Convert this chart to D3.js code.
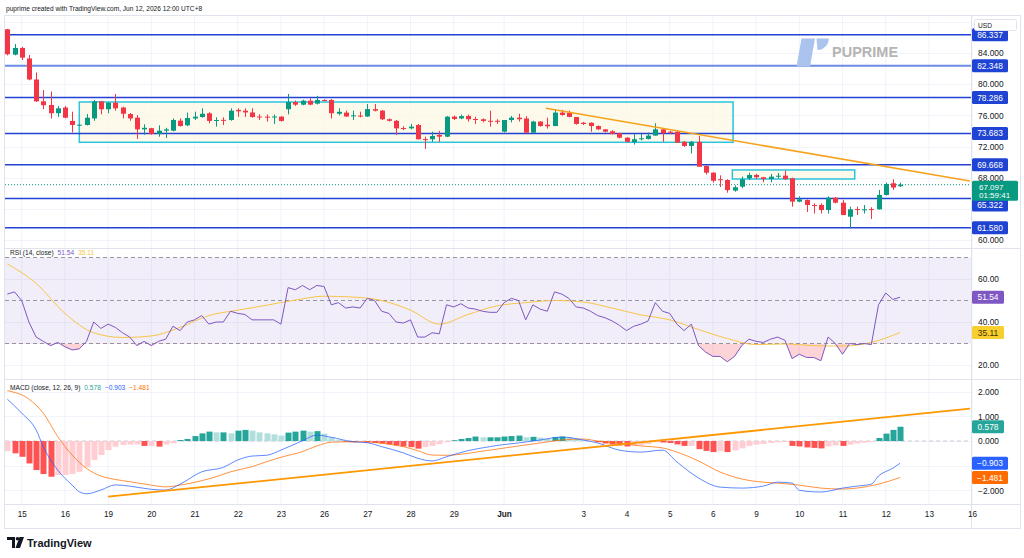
<!DOCTYPE html>
<html>
<head>
<meta charset="utf-8">
<script src="https://cdn.jsdelivr.net/npm/d3@7/dist/d3.min.js"></script>
<style>
  body { margin: 0; background: #ffffff; }
  svg { display: block; font-family: "Liberation Sans", Arial, sans-serif; }
</style>
</head>
<body>
<svg id="chart" width="1024" height="558"></svg>
<script>
// ---- data (4h bars, index 0..124) ----
var opens  = [87.05,83.79,84.65,83.3,80.6,77.8,77.33,76.27,77.0,75.28,74.7,74.76,75.6,77.8,76.78,77.62,77.0,76.17,75.7,74.2,
              74.35,73.6,74.03,74.03,75.32,74.72,75.6,75.78,76.26,75.28,75.42,75.4,76.69,76.6,76.37,75.85,75.83,75.78,75.83,76.78,
              77.7,77.37,77.88,77.5,77.97,77.97,76.2,76.35,75.9,75.97,75.85,76.8,76.6,75.5,75.3,74.37,74.33,74.76,72.95,72.93,
              73.48,73.26,75.83,75.6,75.92,75.53,75.5,75.3,75.3,73.9,75.4,75.7,75.6,73.78,75.2,74.8,74.63,76.35,76.3,75.78,
              75.05,75.05,74.63,74.2,73.95,73.7,73.13,72.55,72.93,72.97,73.4,74.2,73.9,73.9,72.6,72.07,72.6,69.5,68.64,67.8,
              67.7,66.34,66.84,67.92,68.34,68.05,67.83,68.13,68.26,67.92,64.92,65.13,64.5,64.5,63.85,65.43,64.79,62.99,63.97,63.8,
              63.97,63.94,65.78,67.28,66.9];
var highs  = [87.1,85.16,84.8,83.75,81.5,79.25,79.05,77.2,77.2,76.47,74.85,76.17,77.97,77.85,77.7,78.74,77.1,76.3,76.04,74.85,
              74.4,74.72,74.4,75.6,75.6,76.34,76.47,76.9,76.4,75.75,75.75,76.9,76.9,76.9,76.9,76.13,76.1,76.1,75.9,78.74,
              77.9,78.0,78.2,78.5,78.05,78.1,76.9,76.6,76.6,76.47,77.45,77.45,76.7,75.6,75.4,74.6,74.9,74.89,73.26,73.9,
              74.0,75.9,75.97,76.1,76.1,75.83,75.6,76.6,75.5,75.4,75.92,76.2,75.9,75.3,75.25,75.7,76.8,76.7,76.6,75.8,
              75.15,75.1,74.7,74.25,74.1,73.75,73.2,73.6,73.6,73.8,74.98,74.3,74.0,74.0,72.7,72.7,73.35,69.6,68.7,68.3,
              67.8,67.0,68.13,68.64,68.5,68.1,68.47,68.6,68.9,68.0,65.6,65.2,64.7,64.7,65.6,65.5,65.13,64.28,64.28,64.5,
              64.2,66.42,67.36,67.79,67.36];
var lows   = [83.7,83.7,83.1,80.5,77.7,76.8,75.6,75.8,75.6,73.8,74.65,74.7,75.3,76.13,76.26,76.6,75.6,75.3,72.97,73.5,
              73.5,73.26,73.1,73.95,74.55,74.6,75.4,75.7,74.98,74.55,74.75,75.3,75.8,75.8,75.7,75.4,75.2,74.9,75.2,76.13,
              77.2,77.3,77.3,77.4,77.8,75.6,76.0,75.8,75.4,75.75,75.8,76.5,75.4,75.2,73.48,74.1,74.2,72.9,71.68,72.6,
              72.6,73.2,75.4,75.5,75.2,74.9,75.1,74.55,74.9,73.8,75.1,75.2,73.7,73.7,74.55,74.3,74.6,75.95,75.75,74.8,
              74.75,73.9,74.1,73.8,73.55,73.05,72.55,72.25,72.8,72.9,73.4,72.6,73.6,72.45,71.95,71.1,69.4,68.4,67.35,66.8,
              66.07,66.2,66.64,67.7,67.8,67.4,67.4,67.9,67.7,64.28,64.85,63.6,63.4,63.4,63.4,64.7,63.2,61.5,63.2,63.4,
              62.7,63.9,65.7,66.42,66.8];
var closes = [83.84,84.65,83.4,80.6,77.8,77.3,76.27,76.9,75.7,74.76,74.8,75.7,77.8,76.78,77.62,76.9,76.2,75.6,74.2,74.4,
              73.6,74.03,74.2,75.4,74.63,75.66,75.83,76.2,75.28,75.4,75.35,76.6,76.52,76.37,75.78,75.78,75.78,75.85,75.28,77.7,
              77.37,77.88,77.37,77.97,77.85,76.27,76.45,75.85,76.0,75.85,76.8,76.6,75.5,75.3,74.33,74.25,74.55,72.93,72.9,73.35,
              73.26,75.83,75.53,75.9,75.5,75.47,75.28,75.2,75.2,75.4,75.7,75.5,73.78,75.2,74.63,74.6,76.35,76.04,75.8,74.9,
              74.89,74.63,74.2,73.9,73.6,73.13,72.6,72.93,73.05,73.4,74.2,73.7,73.8,72.5,72.07,72.6,69.4,68.64,67.6,67.75,
              66.4,66.77,67.79,68.34,68.05,67.83,68.13,68.25,67.83,64.92,65.22,64.49,64.45,63.85,65.43,64.79,63.2,63.94,63.9,63.94,
              63.9,65.78,67.19,66.73,67.097];

var rsiValues = [53,54,50,40,33,31,29,30.5,28.5,27,27.5,31,40,37,39,37.5,35,33,29,31,
                 29,31,32,38,36,40,41,43,39,40,40,45,44,43.5,41,41,41,41,39,56,
                 55,57,55,57,56.5,48,49,46.5,47,46.5,51,50,45,44,40,39.5,41,33,33,35,
                 34.5,48,47,48.5,46.5,46,45,44.5,44.5,49,51,50,41,48,46,45,54,53,51,47,
                 46.5,45,43,42,40.5,38.5,36,38,39,40.5,49,45,44,39,36,39,29,26,24,24,
                 21.5,24,29,32,31,30.5,32,33,31.5,23,25,23.5,23.5,22,33,30,25,30,29.5,30,
                 29.5,48,53.5,50.5,51.54];
var rsiMaBars   = [0,4,8,12,16,20,24,28,32,36,40,44,48,52,56,60,64,68,72,76,80,84,88,92,96,100,104,108,112,116,120,124];
var rsiMaValues = [67,58,44,35,32.8,33.5,37.5,43,45.5,47.8,50.2,52,51.6,50,45.5,39,43.5,47.5,49,50,49.3,46.5,43.3,41,36.5,32.3,29.5,29.8,29,28.8,30.5,35.11];

var macdBars   = [0,2,4,5,7,9,10,11,13,15,17,20,22,24,27,30,32,34,36,38,41,43,45,48,50,52,55,57,59,61,
                  64,67,68,71,74,77,80,82,85,88,91,93,96,99,102,105,107,109,110,113,116,118,120,121,123,124];
var macdValues = [1.70,1.13,0.45,-0.23,-1.18,-1.79,-2.06,-2.14,-1.99,-1.78,-1.83,-1.96,-1.99,-1.75,-1.25,-1.07,-0.77,-0.61,-0.58,-0.37,
                  0.01,0.24,0.15,-0.03,-0.07,-0.23,-0.48,-0.70,-0.81,-0.64,-0.39,-0.23,-0.18,-0.08,0.04,0.16,0.04,-0.08,-0.37,-0.45,
                  -0.37,-0.85,-1.5,-1.87,-1.91,-1.83,-1.67,-1.71,-2.0,-2.07,-1.91,-1.83,-1.75,-1.42,-1.1,-0.903];
var signalBars   = [0,3,5,7,9,11,13,15,17,20,22,24,27,29,31,34,36,38,41,43,45,48,50,52,55,57,59,61,64,66,
                    68,71,74,77,80,82,85,88,91,93,96,99,102,105,107,110,113,116,118,121,124];
var signalValues = [2.04,1.70,1.13,0.18,-0.57,-1.11,-1.42,-1.56,-1.65,-1.79,-1.86,-1.79,-1.61,-1.45,-1.25,-1.04,-0.84,-0.66,-0.43,-0.20,
                    -0.05,-0.03,-0.04,-0.09,-0.23,-0.39,-0.57,-0.58,-0.50,-0.41,-0.33,-0.2,-0.08,0.04,0.08,0.0,-0.08,-0.2,-0.28,-0.45,
                    -0.81,-1.26,-1.54,-1.67,-1.71,-1.79,-1.91,-1.95,-1.91,-1.75,-1.481];
var histValues = [-0.41,-0.50,-0.64,-0.91,-1.18,-1.34,-1.45,-1.38,-1.38,-1.34,-1.25,-1.07,-0.77,-0.57,-0.37,-0.23,-0.16,-0.14,-0.14,-0.20,
                  -0.20,-0.23,-0.14,-0.09,0.04,0.08,0.20,0.31,0.38,0.35,0.35,0.31,0.42,0.45,0.42,0.35,0.31,0.27,0.22,0.34,
                  0.38,0.42,0.38,0.40,0.30,0.15,0.05,-0.03,-0.05,-0.04,-0.06,-0.08,-0.10,-0.14,-0.18,-0.22,-0.25,-0.31,-0.25,-0.20,
                  -0.13,-0.05,0.03,0.08,0.12,0.18,0.15,0.15,0.15,0.18,0.20,0.22,0.15,0.17,0.14,0.10,0.16,0.18,0.16,0.10,
                  0.05,0.0,-0.05,-0.10,-0.14,-0.18,-0.22,-0.20,-0.17,-0.12,-0.05,-0.06,-0.08,-0.14,-0.20,-0.20,-0.33,-0.40,-0.45,-0.42,
                  -0.45,-0.38,-0.30,-0.20,-0.15,-0.12,-0.08,-0.05,-0.04,-0.20,-0.22,-0.26,-0.28,-0.30,-0.22,-0.18,-0.20,-0.15,-0.10,-0.07,
                  -0.04,0.12,0.30,0.45,0.578];

// horizontal levels, zones and trend lines drawn on the chart
var levelPrices = [86.337, 82.348, 78.286, 73.683, 69.668, 65.322, 61.580];
var zoneFromBar = [10, 100.7], zoneToBar = [100.8, 117.7];
var zoneTop = [77.71, 68.99], zoneBottom = [72.54, 67.83];
var priceTrendBars = [74.8, 133.7], priceTrendValues = [76.9, 67.57];
var macdTrendBars = [14.0, 133.7], macdTrendValues = [-2.26, 1.31];

// axis ticks
var tickBars   = [2,8,14,20,26,32,38,44,50,56,62,69,80,86,92,98,104,110,116,122,128,134];
var tickLabels = ["15","16","19","20","21","22","23","26","27","28","29","Jun","3","4","5","6","9","10","11","12","13","16"];
var priceTicks = [60, 68, 72, 76, 80, 84];
var priceGrid  = [60, 64, 68, 72, 76, 80, 84, 88];
var rsiTicks   = [20, 40, 60];
var macdTicks  = [-2, 0, 1, 2];
var macdGrid   = [-2, -1, 0, 1, 2];

// ---- layout ----
const plotL = 5, plotR = 971, frameB = 528;
const priceTop = 15, priceBot = 248, rsiTop = 248, rsiBot = 379, macdTop = 379, macdBot = 504;
const colorUp = "#089981", colorDown = "#f23645", colorLevel = "#2342d4", colorGrid = "#f0f3fa";

var svg = d3.select("#chart");

var x = d3.scaleLinear().domain([0, 124]).range([7.3, 900.1]);
var yPrice = d3.scaleLinear().domain([60, 84]).range([240, 53]);
var yRsi = d3.scaleLinear().domain([20, 60]).range([365, 279]);
var yMacd = d3.scaleLinear().domain([-2, 2]).range([490.3, 391.7]);

var defs = svg.append("defs");
function addClip(id, top, bot) {
    defs.append("clipPath").attr("id", id)
        .append("rect").attr("x", plotL).attr("y", top).attr("width", plotR - plotL).attr("height", bot - top);
}
addClip("clip-price", priceTop, priceBot);
addClip("clip-rsi", rsiTop, rsiBot);
addClip("clip-macd", macdTop, macdBot);
defs.append("clipPath").attr("id", "clip-oversold")
    .append("rect").attr("x", plotL).attr("y", yRsi(30)).attr("width", plotR - plotL).attr("height", rsiBot - yRsi(30));

// header
svg.append("text").attr("x", 6).attr("y", 10.5)
    .style("font-size", "6.6px").style("fill", "#131722")
    .text("puprime created with TradingView.com, Jun 12, 2026 12:00 UTC+8");

// grid
var grid = svg.append("g");
grid.selectAll(".vgrid").data(tickBars).enter().append("line")
    .attr("x1", d => x(d)).attr("x2", d => x(d))
    .attr("y1", priceTop).attr("y2", macdBot)
    .attr("stroke", colorGrid).attr("stroke-width", 1);
function hGrid(values, scale) {
    grid.selectAll(null).data(values).enter().append("line")
        .attr("x1", plotL).attr("x2", plotR)
        .attr("y1", d => Math.round(scale(d)) + 0.5).attr("y2", d => Math.round(scale(d)) + 0.5)
        .attr("stroke", colorGrid).attr("stroke-width", 1);
}
hGrid(priceGrid.filter(d => yPrice(d) > priceTop), yPrice);
hGrid(rsiTicks, yRsi);
hGrid(macdGrid, yMacd);

// frame and separators
svg.append("rect").attr("x", 4.5).attr("y", priceTop + 0.5).attr("width", 1016).attr("height", frameB - priceTop)
    .attr("fill", "none").attr("stroke", "#e0e3eb");
[priceBot, rsiBot, macdBot].forEach(function(yy) {
    svg.append("line").attr("x1", 4.5).attr("x2", 1020.5).attr("y1", yy + 0.5).attr("y2", yy + 0.5)
        .attr("stroke", "#e0e3eb").attr("stroke-width", 1);
});
svg.append("line").attr("x1", plotR + 0.5).attr("x2", plotR + 0.5).attr("y1", priceTop).attr("y2", frameB)
    .attr("stroke", "#e0e3eb");

// ---- price panel ----
var pricePanel = svg.append("g").attr("clip-path", "url(#clip-price)");

pricePanel.selectAll(".zone").data(zoneTop).enter().append("rect")
    .attr("x", (d, i) => x(zoneFromBar[i]))
    .attr("y", d => yPrice(d))
    .attr("width", (d, i) => x(zoneToBar[i]) - x(zoneFromBar[i]))
    .attr("height", (d, i) => yPrice(zoneBottom[i]) - yPrice(d))
    .attr("fill", "#fdf8e6").attr("fill-opacity", 0.8)
    .attr("stroke", "#2bc4dc").attr("stroke-width", 1.5);

pricePanel.selectAll(".level").data(levelPrices).enter().append("line")
    .attr("x1", plotL).attr("x2", plotR)
    .attr("y1", d => yPrice(d)).attr("y2", d => yPrice(d))
    .attr("stroke", (d, i) => i === 1 ? "#6d8ce6" : colorLevel)
    .attr("stroke-width", (d, i) => i === 1 ? 2 : 1.5);

pricePanel.append("line")
    .attr("x1", plotL).attr("x2", plotR)
    .attr("y1", yPrice(closes[124])).attr("y2", yPrice(closes[124]))
    .attr("stroke", colorUp).attr("stroke-dasharray", "1,2").attr("stroke-width", 1);

var candles = pricePanel.selectAll(".candle").data(closes).enter().append("g");
candles.append("line")
    .attr("x1", (d, i) => Math.round(x(i)) + 0.5).attr("x2", (d, i) => Math.round(x(i)) + 0.5)
    .attr("y1", (d, i) => yPrice(highs[i])).attr("y2", (d, i) => yPrice(lows[i]))
    .attr("stroke", (d, i) => d >= opens[i] ? colorUp : colorDown).attr("stroke-width", 1);
candles.append("rect")
    .attr("x", (d, i) => Math.round(x(i)) - 2)
    .attr("y", (d, i) => yPrice(Math.max(d, opens[i])))
    .attr("width", 5)
    .attr("height", (d, i) => Math.max(1, Math.abs(yPrice(d) - yPrice(opens[i]))))
    .attr("fill", (d, i) => d >= opens[i] ? colorUp : colorDown);

pricePanel.append("line")
    .attr("x1", x(priceTrendBars[0])).attr("x2", x(priceTrendBars[1]))
    .attr("y1", yPrice(priceTrendValues[0])).attr("y2", yPrice(priceTrendValues[1]))
    .attr("stroke", "#f7a21b").attr("stroke-width", 1.5);

// watermark
var mark = svg.append("g");
mark.append("path").attr("d", "M801.5,38.5 L815,38.5 L810,66.5 L796.5,66.5 Z").attr("fill", "#aac4ee");
mark.append("path").attr("d", "M816.5,38.5 L829,38.5 Q828,48 819,50 L817.5,50 Z").attr("fill", "#aac4ee");
mark.append("text").attr("x", 832).attr("y", 57).style("font-size", "14.5px").style("font-weight", "bold")
    .style("fill", "#b4b4b4").text("PUPRIME");

// ---- RSI panel ----
var rsiPanel = svg.append("g").attr("clip-path", "url(#clip-rsi)");
rsiPanel.append("rect").attr("x", plotL).attr("width", plotR - plotL)
    .attr("y", yRsi(70)).attr("height", yRsi(30) - yRsi(70))
    .attr("fill", "#7e57c2").attr("fill-opacity", 0.1);
rsiPanel.selectAll(".band").data([70, 50, 30]).enter().append("line")
    .attr("x1", plotL).attr("x2", plotR)
    .attr("y1", d => yRsi(d)).attr("y2", d => yRsi(d))
    .attr("stroke", "#9598a1").attr("stroke-dasharray", "4,3").attr("stroke-width", 1);

rsiPanel.append("path").datum(rsiValues)
    .attr("clip-path", "url(#clip-oversold)")
    .attr("d", d3.area().x((d, i) => x(i)).y0(yRsi(30)).y1(d => yRsi(d)))
    .attr("fill", "#f23645").attr("fill-opacity", 0.22);

rsiPanel.append("path").datum(rsiMaValues)
    .attr("d", d3.line().x((d, i) => x(rsiMaBars[i])).y(d => yRsi(d)).curve(d3.curveMonotoneX))
    .attr("fill", "none").attr("stroke", "#f7c548").attr("stroke-width", 1);
rsiPanel.append("path").datum(rsiValues)
    .attr("d", d3.line().x((d, i) => x(i)).y(d => yRsi(d)))
    .attr("fill", "none").attr("stroke", "#7e57c2").attr("stroke-width", 1);

// ---- MACD panel ----
var macdPanel = svg.append("g").attr("clip-path", "url(#clip-macd)");
macdPanel.append("line").attr("x1", plotL).attr("x2", plotR)
    .attr("y1", yMacd(0)).attr("y2", yMacd(0))
    .attr("stroke", "#c9ccd4").attr("stroke-dasharray", "4,3");

macdPanel.selectAll(".hist").data(histValues).enter().append("rect")
    .attr("x", (d, i) => Math.round(x(i)) - 2.5)
    .attr("width", 6)
    .attr("y", d => Math.min(yMacd(d), yMacd(0)))
    .attr("height", d => Math.abs(yMacd(d) - yMacd(0)))
    .attr("fill", function(d, i) {
        var prev = i > 0 ? histValues[i - 1] : d;
        if (d >= 0) return d >= prev ? "#26a69a" : "#b2dfdb";
        return d < prev ? "#ff5252" : "#ffcdd2";
    });

macdPanel.append("path").datum(signalValues)
    .attr("d", d3.line().x((d, i) => x(signalBars[i])).y(d => yMacd(d)).curve(d3.curveMonotoneX))
    .attr("fill", "none").attr("stroke", "#ff6d00").attr("stroke-opacity", 0.75).attr("stroke-width", 1);
macdPanel.append("path").datum(macdValues)
    .attr("d", d3.line().x((d, i) => x(macdBars[i])).y(d => yMacd(d)).curve(d3.curveMonotoneX))
    .attr("fill", "none").attr("stroke", "#2962ff").attr("stroke-opacity", 0.75).attr("stroke-width", 1);

macdPanel.append("line")
    .attr("x1", x(macdTrendBars[0])).attr("x2", x(macdTrendBars[1]))
    .attr("y1", yMacd(macdTrendValues[0])).attr("y2", yMacd(macdTrendValues[1]))
    .attr("stroke", "#ff9800").attr("stroke-width", 1.8);

// panel legends
function legend(y, title, parts) {
    var t = svg.append("text").attr("x", 10).attr("y", y).style("font-size", "6.6px").style("fill", "#131722");
    t.append("tspan").text(title);
    parts.forEach(function(p) {
        t.append("tspan").attr("dx", 4).style("fill", p[1]).text(p[0]);
    });
}
legend(255, "RSI (14, close)", [["51.54", "#7e57c2"], ["35.11", "#f7c548"]]);
legend(390, "MACD (close, 12, 26, 9)", [["0.578", "#26a69a"], ["\u22120.903", "#2962ff"], ["\u22121.481", "#ff6d00"]]);

// ---- right axes ----
function rightAxis(scale, ticks, fmt) {
    var g = svg.append("g").attr("transform", "translate(" + plotR + ",0)")
        .call(d3.axisRight(scale).tickValues(ticks).tickFormat(fmt).tickSize(0).tickPadding(7));
    g.select(".domain").remove();
    g.selectAll("text").style("font-size", "8.4px").style("fill", "#131722")
        .style("font-family", "'Liberation Sans', Arial, sans-serif");
}
rightAxis(yPrice, priceTicks, d3.format(".3f"));
rightAxis(yRsi, rsiTicks, d3.format(".2f"));
rightAxis(yMacd, macdTicks, d => d3.format(".3f")(d).replace("-", "\u2212"));

function axisBox(yy, label, fill, textFill, w) {
    svg.append("rect").attr("x", plotR + 1).attr("y", yy - 6.5).attr("width", w).attr("height", 13)
        .attr("rx", 1.5).attr("fill", fill);
    svg.append("text").attr("x", plotR + 1 + w / 2).attr("y", yy + 3).attr("text-anchor", "middle")
        .style("font-size", "8.4px").style("fill", textFill).text(label);
}
// the 65.322 tag is nudged below the last-price tag, as on the chart
levelPrices.forEach(p => axisBox(p === 65.322 ? yPrice(p) + 6.5 : yPrice(p), d3.format(".3f")(p), "#1f44d4", "#ffffff", 36));
axisBox(yRsi(rsiValues[124]), "51.54", "#7e57c2", "#ffffff", 32);
axisBox(yRsi(rsiMaValues[rsiMaValues.length - 1]), "35.11", "#f9cf2f", "#3a2f00", 32);
axisBox(yMacd(histValues[124]), "0.578", "#26a69a", "#ffffff", 32);
axisBox(yMacd(macdValues[macdValues.length - 1]), "\u22120.903", "#2962ff", "#ffffff", 36);
axisBox(yMacd(signalValues[signalValues.length - 1]), "\u22121.481", "#ff6d00", "#ffffff", 36);

// last price with countdown (drawn over the 68.000 tick, like the chart)
var lastY = yPrice(closes[124]);
svg.append("rect").attr("x", plotR + 1).attr("y", lastY - 4).attr("width", 46).attr("height", 20)
    .attr("rx", 1.5).attr("fill", colorUp);
svg.append("text").attr("x", plotR + 8).attr("y", lastY + 5).style("font-size", "8px").style("fill", "#ffffff")
    .text(d3.format(".3f")(closes[124]));
svg.append("text").attr("x", plotR + 8).attr("y", lastY + 13.3).style("font-size", "8px").style("fill", "#ffffff")
    .text("01:59:41");

// currency box
svg.append("rect").attr("x", 974.5).attr("y", 19.5).attr("width", 42).attr("height", 11).attr("rx", 2)
    .attr("fill", "#ffffff").attr("stroke", "#e0e3eb");
svg.append("text").attr("x", 978).attr("y", 27.5).style("font-size", "6.6px").style("fill", "#131722").text("USD");

// ---- time axis ----
var timeAxis = svg.append("g").attr("transform", "translate(0," + macdBot + ")")
    .call(d3.axisBottom(x).tickValues(tickBars).tickFormat((d, i) => tickLabels[i]).tickSize(0).tickPadding(7));
timeAxis.select(".domain").remove();
timeAxis.selectAll("text").style("font-size", "8.2px").style("fill", "#131722")
    .style("font-family", "'Liberation Sans', Arial, sans-serif")
    .style("font-weight", (d, i) => tickLabels[i] === "Jun" ? "bold" : "normal");

// ---- TradingView mark ----
var tv = svg.append("g");
tv.append("path").attr("d", "M7,537 L15,537 L15,548 L12,548 L12,540 L7,540 Z").attr("fill", "#131722");
tv.append("circle").attr("cx", 17.5).attr("cy", 538.8).attr("r", 1.8).attr("fill", "#131722");
tv.append("path").attr("d", "M19.5,537 L24,537 L20,548 L15.5,548 Z").attr("fill", "#131722");
tv.append("text").attr("x", 27).attr("y", 547).style("font-size", "11px").style("font-weight", "bold")
    .style("fill", "#131722").text("TradingView");
</script>
</body>
</html>
